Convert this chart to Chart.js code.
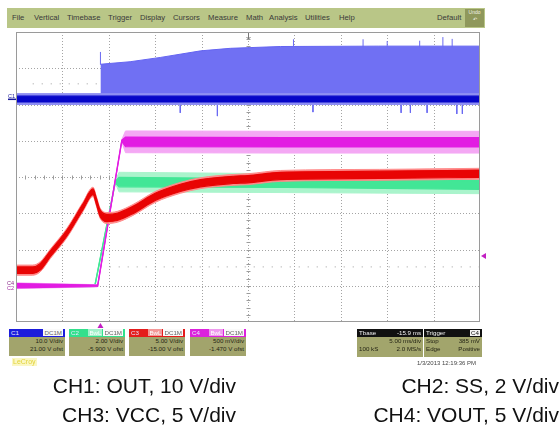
<!DOCTYPE html>
<html>
<head>
<meta charset="utf-8">
<title>Soft-start capture</title>
<script src="https://cdn.jsdelivr.net/npm/chart.js@4.4.1/dist/chart.umd.min.js"></script>
<style>
  body { margin: 0; background: #fff; }
  #page { position: relative; width: 560px; height: 427px; overflow: hidden; font-family: "Liberation Sans", Arial, sans-serif; }
  #scope { position: absolute; left: 0; top: 0; }
  .menu { position: absolute; left: 7px; top: 8px; width: 478px; height: 20px; background: #b9c687; }
  .menu span { position: absolute; top: 5px; font-size: 7.7px; line-height: 9px; color: #3a3a3a; }
  .menu .undo { left: 458px; top: 1px; width: 19px; height: 18px; background: #8f985c; color: #f2f2e6; font-size: 5px; line-height: 7px; text-align: center; }
  .chbox { position: absolute; top: 329px; width: 56px; height: 27px; background: #a2a46c; font-size: 6.2px; color: #252515; }
  .chbox .hd { position: relative; height: 8px; color: #e8e8ff; }
  .chbox .hd .id { position: absolute; left: 2px; top: 1px; line-height: 6px; }
  .chbox .hd .cp { position: absolute; right: 2px; top: 1px; line-height: 6px; }
  .chbox .hd .cp b { font-weight: normal; background: rgba(255,255,255,0.55); color: #fff; padding: 0 1px; margin-right: 1px; }
  .chbox .hd .cp i { font-style: normal; background: #fafafa; color: #666; padding: 0 1px; }
  .chbox .r { text-align: right; padding-right: 2px; line-height: 8px; }
  .chbox .r:first-of-type { margin-top: 2px; }
  .info { position: absolute; top: 329px; height: 28px; background: #a2a56c; font-size: 6.2px; color: #252515; }
  .info div { position: relative; height: 8px; line-height: 8px; }
  .info .ihd { background: #111; color: #f4f4f4; }
  .info .l { position: absolute; left: 2px; }
  .info .rt { position: absolute; right: 2px; }
  .info .tag { background: #f4f4f4; color: #111; padding: 0 1px; line-height: 6px; top: 1px; }
  .stamp { position: absolute; right: 84px; top: 360px; font-size: 6px; color: #444; }
  .brand { position: absolute; left: 12px; top: 358px; font-size: 7px; line-height: 8px; color: #e2d33a; background: #fbf7c4; padding: 0 1px; }
  .cap { position: absolute; font-size: 21px; line-height: 21px; color: #111; white-space: nowrap; text-align: right; }
</style>
</head>
<body>
<div id="page">
  <canvas id="scope" width="560" height="427"></canvas>

  <div class="menu">
    <span style="left:5px">File</span>
    <span style="left:27px">Vertical</span>
    <span style="left:60px">Timebase</span>
    <span style="left:101px">Trigger</span>
    <span style="left:133px">Display</span>
    <span style="left:166px">Cursors</span>
    <span style="left:201px">Measure</span>
    <span style="left:239px">Math</span>
    <span style="left:262px">Analysis</span>
    <span style="left:298px">Utilities</span>
    <span style="left:332px">Help</span>
    <span style="left:430px">Default</span>
    <span class="undo">Undo<br>&#8630;</span>
  </div>

  <div class="chbox" style="left:9px">
    <div class="hd" style="background:#1c1cdc"><span class="id">C1</span><span class="cp"><i>DC1M</i></span></div>
    <div class="r">10.0 V/div</div>
    <div class="r">21.00 V ofst</div>
  </div>
  <div class="chbox" style="left:69px">
    <div class="hd" style="background:#33e08c"><span class="id">C2</span><span class="cp"><b>BwL</b><i>DC1M</i></span></div>
    <div class="r">2.00 V/div</div>
    <div class="r">-5.900 V ofst</div>
  </div>
  <div class="chbox" style="left:129px">
    <div class="hd" style="background:#e41c1c"><span class="id">C3</span><span class="cp"><b>BwL</b><i>DC1M</i></span></div>
    <div class="r">5.00 V/div</div>
    <div class="r">-15.00 V ofst</div>
  </div>
  <div class="chbox" style="left:190px">
    <div class="hd" style="background:#dc22dc"><span class="id">C4</span><span class="cp"><b>BwL</b><i>DC1M</i></span></div>
    <div class="r">500 mV/div</div>
    <div class="r">-1.470 V ofst</div>
  </div>
  <div class="brand">LeCroy</div>

  <div class="info" style="left:357px;width:66px">
    <div class="ihd"><span class="l">Tbase</span><span class="rt">-15.9 ms</span></div>
    <div><span class="rt">5.00 ms/div</span></div>
    <div><span class="l">100 kS</span><span class="rt">2.0 MS/s</span></div>
  </div>
  <div class="info" style="left:424px;width:58px">
    <div class="ihd"><span class="l">Trigger</span><span class="rt tag">C4</span></div>
    <div><span class="l">Stop</span><span class="rt">385 mV</span></div>
    <div><span class="l">Edge</span><span class="rt">Positive</span></div>
  </div>
  <div class="stamp">1/3/2013 12:19:36 PM</div>

  <div class="cap" style="right:324px;top:375px">CH1: OUT, 10 V/div</div>
  <div class="cap" style="right:1px;top:375px">CH2: SS, 2 V/div</div>
  <div class="cap" style="right:324px;top:404px">CH3: VCC, 5 V/div</div>
  <div class="cap" style="right:1px;top:404px">CH4: VOUT, 5 V/div</div>
</div>

<script>
// time in ms (5 ms/div), trigger at 0, screen centre at +15.9 ms
const timeMin = -9.1;
const timeMax = 40.9;

// all levels are in screen divisions from the centre line
// CH1 OUT
const ch1Time = [-9.1, 40.9];
const ch1Mid = [2.15, 2.15];
const ch1Halo = [0.15, 0.15];
const ch1Core = [0.08, 0.08];
const ch1EnvTime = [0, 3.2, 6.5, 10.8, 14.0, 19.4, 30.0, 40.9];
const ch1EnvTop = [3.11, 3.18, 3.30, 3.48, 3.55, 3.60, 3.61, 3.61];

// CH2 SS
const ch2Time = [-9.1, -0.6, 1.6, 2.0, 20.0, 40.9];
const ch2Mid = [-3.0, -3.0, -0.14, -0.14, -0.17, -0.22];
const ch2Halo = [0.05, 0.03, 0.03, 0.27, 0.26, 0.24];
const ch2Core = [0.03, 0.02, 0.02, 0.13, 0.12, 0.12];

// CH3 VCC
const ch3Time = [-9.1, -7.3, -6.5, -5.4, -3.6, -1.9, -0.8, -0.45, -0.05, 0.7, 1.8, 3.5, 5.9, 8.6, 10.8, 14.3, 15.9, 19.4, 30.1, 40.9];
const ch3Mid = [-2.57, -2.57, -2.48, -2.12, -1.54, -0.83, -0.41, -0.66, -0.99, -1.13, -1.10, -0.91, -0.55, -0.30, -0.17, -0.08, -0.06, 0.03, 0.06, 0.09];
const ch3Halo = [0.14, 0.14, 0.14, 0.13, 0.13, 0.13, 0.13, 0.13, 0.14, 0.15, 0.15, 0.15, 0.15, 0.15, 0.15, 0.15, 0.15, 0.15, 0.15, 0.15];
const ch3Core = [0.09, 0.09, 0.09, 0.08, 0.08, 0.08, 0.08, 0.08, 0.09, 0.10, 0.10, 0.10, 0.10, 0.10, 0.10, 0.10, 0.10, 0.10, 0.10, 0.10];

// CH4 VOUT
const ch4Time = [-9.1, -0.3, 2.3, 2.7, 20.0, 40.9];
const ch4Mid = [-3.0, -3.0, 1.0, 0.97, 0.96, 0.96];
const ch4Halo = [0.08, 0.03, 0.03, 0.30, 0.30, 0.30];
const ch4Core = [0.06, 0.02, 0.02, 0.13, 0.13, 0.13];

// glitches on CH1
const spikeTime = [-5.4, -2.6, 8.6, 12.6, 22.9, 32.4, 33.4, 35.2, 38.4, 39.0, 0.0, 20.8, 28.3, 30.9, 34.4, 36.9, 37.9];
const spikeFrom = [2.05, 2.05, 2.05, 2.05, 2.05, 2.05, 2.05, 2.05, 2.05, 2.05, 3.10, 3.58, 3.58, 3.58, 3.58, 3.58, 3.58];
const spikeTo = [1.98, 2.00, 1.77, 1.68, 1.79, 1.77, 1.77, 1.77, 1.74, 1.74, 3.45, 3.80, 3.80, 3.75, 3.76, 3.86, 3.81];

// faint dotted levels
const dotsLeftTime = [-7.3, -0.4];
const dotsLeftLevel = [2.57, 2.57];
const dotsRightTime = [1.0, 40.9];
const dotsRightLevel = [-2.48, -2.48];

const trigLevel = -2.18;

function trace(time, values) {
    return time.map((t, i) => ({ x: t, y: values[i] }));
}

function shifted(time, mid, spread, sign) {
    return time.map((t, i) => ({ x: t, y: mid[i] + sign * spread[i] }));
}

// noisy trace = light halo band + denser core band
function band(time, mid, halo, core, haloColor, coreColor, order, extra) {
    return [
        Object.assign({ data: shifted(time, mid, halo, 1), borderColor: haloColor, backgroundColor: haloColor, borderWidth: 1, fill: "+1", order: order + 3 }, extra),
        Object.assign({ data: shifted(time, mid, halo, -1), borderColor: haloColor, borderWidth: 1, fill: false, order: order + 2 }, extra),
        Object.assign({ data: shifted(time, mid, core, 1), borderColor: coreColor, backgroundColor: coreColor, borderWidth: 1.2, fill: "+1", order: order + 1 }, extra),
        Object.assign({ data: shifted(time, mid, core, -1), borderColor: coreColor, borderWidth: 1.2, fill: false, order: order }, extra),
    ];
}

const spikeData = [];
spikeTime.forEach((t, i) => {
    spikeData.push({ x: t, y: spikeFrom[i] }, { x: t, y: spikeTo[i] }, { x: t, y: null });
});

// dotted graticule, centre ticks, border and markers
const scopeGrid = {
    id: "scopeGrid",
    beforeDatasetsDraw(chart) {
        const { ctx, chartArea: a, scales: { x, y } } = chart;
        ctx.save();
        ctx.strokeStyle = "#a4a4a4";
        ctx.lineWidth = 1;
        ctx.setLineDash([1, 2]);
        for (let k = 1; k < 10; k++) {
            const px = Math.round(x.getPixelForValue(timeMin + 5 * k)) + 0.5;
            ctx.beginPath();
            ctx.moveTo(px, a.top);
            ctx.lineTo(px, a.bottom);
            ctx.stroke();
        }
        for (let d = -3; d <= 3; d++) {
            const py = Math.round(y.getPixelForValue(d)) + 0.5;
            ctx.beginPath();
            ctx.moveTo(a.left, py);
            ctx.lineTo(a.right, py);
            ctx.stroke();
        }
        ctx.setLineDash([]);
        ctx.strokeStyle = "#9c9c9c";
        const cx = Math.round(x.getPixelForValue(timeMin + 25)) + 0.5;
        const cy = Math.round(y.getPixelForValue(0)) + 0.5;
        for (let k = 1; k < 50; k++) {
            const px = Math.round(x.getPixelForValue(timeMin + k)) + 0.5;
            ctx.beginPath();
            ctx.moveTo(px, cy - 2);
            ctx.lineTo(px, cy + 2);
            ctx.stroke();
        }
        for (let k = 1; k < 40; k++) {
            const py = Math.round(y.getPixelForValue(-4 + k * 0.2)) + 0.5;
            ctx.beginPath();
            ctx.moveTo(cx - 2, py);
            ctx.lineTo(cx + 2, py);
            ctx.stroke();
        }
        ctx.restore();
    },
    afterDatasetsDraw(chart) {
        const { ctx, chartArea: a, scales: { x, y } } = chart;
        ctx.save();
        ctx.strokeStyle = "#9a9a9a";
        ctx.lineWidth = 1;
        ctx.strokeRect(a.left + 0.5, a.top + 0.5, a.right - a.left - 1, a.bottom - a.top - 1);

        // centre marker at the top
        const cx = Math.round(x.getPixelForValue(timeMin + 25)) + 0.5;
        ctx.strokeStyle = "#777";
        ctx.beginPath();
        ctx.moveTo(cx, a.top + 1);
        ctx.lineTo(cx, a.top + 7);
        ctx.moveTo(cx - 2, a.top + 5);
        ctx.lineTo(cx, a.top + 7);
        ctx.lineTo(cx + 2, a.top + 5);
        ctx.stroke();

        // trigger level and trigger time
        ctx.fillStyle = "#c21fc2";
        const ty = y.getPixelForValue(trigLevel);
        ctx.beginPath();
        ctx.moveTo(a.right + 1, ty);
        ctx.lineTo(a.right + 6, ty - 3);
        ctx.lineTo(a.right + 6, ty + 3);
        ctx.fill();
        const tx = x.getPixelForValue(0);
        ctx.beginPath();
        ctx.moveTo(tx, a.bottom + 1);
        ctx.lineTo(tx - 3, a.bottom + 6);
        ctx.lineTo(tx + 3, a.bottom + 6);
        ctx.fill();

        // channel ground labels on the left edge
        ctx.font = "5.5px 'Liberation Sans', Arial, sans-serif";
        const g1 = y.getPixelForValue(ch1Mid[0]);
        ctx.fillStyle = "#1a1a9a";
        ctx.fillText("C1", 8, g1 - 1.5);
        ctx.fillRect(8, g1 - 0.5, 8, 1.5);
        const g4 = y.getPixelForValue(ch4Mid[0]);
        ctx.fillStyle = "#8a2a8a";
        ctx.fillText("C4", 7, g4 - 1);
        ctx.fillStyle = "#a02ca0";
        ctx.fillText("C2", 7, g4 + 4.5);
        ctx.restore();
    },
};

const datasets = [
    ...band(ch1Time, ch1Mid, ch1Halo, ch1Core, "#8e8ef3", "#0606c8", 10),
    { data: spikeData, borderColor: "#6a6af2", borderWidth: 1, fill: false, order: 20 },
    { data: trace(ch1EnvTime, ch1EnvTop), borderColor: "#6464f2", backgroundColor: "#7070f3", borderWidth: 1, fill: { value: ch1Mid[0] }, order: 21 },
    ...band(ch3Time, ch3Mid, ch3Halo, ch3Core, "#ff8a8a", "#e80404", 30, { cubicInterpolationMode: "monotone" }),
    ...band(ch4Time, ch4Mid, ch4Halo, ch4Core, "#f4a8f4", "#e21ce2", 40),
    ...band(ch2Time, ch2Mid, ch2Halo, ch2Core, "#aaf4cc", "#42e696", 50),
    { data: trace(dotsLeftTime, dotsLeftLevel), borderColor: "#9c9c9c", borderWidth: 1, borderDash: [1, 8], fill: false, order: 90 },
    { data: trace(dotsRightTime, dotsRightLevel), borderColor: "#9c9c9c", borderWidth: 1, borderDash: [1, 8], fill: false, order: 91 },
];

const ctx = document.getElementById("scope").getContext("2d");
const scope = new Chart(ctx, {
    type: "line",
    data: { datasets: datasets },
    options: {
        responsive: false,
        animation: false,
        events: [],
        layout: { padding: { left: 16, top: 32, right: 80, bottom: 105 } },
        elements: { point: { radius: 0 }, line: { tension: 0 } },
        scales: {
            x: { type: "linear", display: false, min: timeMin, max: timeMax },
            y: { type: "linear", display: false, min: -4, max: 4 },
        },
        plugins: {
            legend: { display: false },
            tooltip: { enabled: false },
        },
    },
    plugins: [scopeGrid],
});
</script>
</body>
</html>
